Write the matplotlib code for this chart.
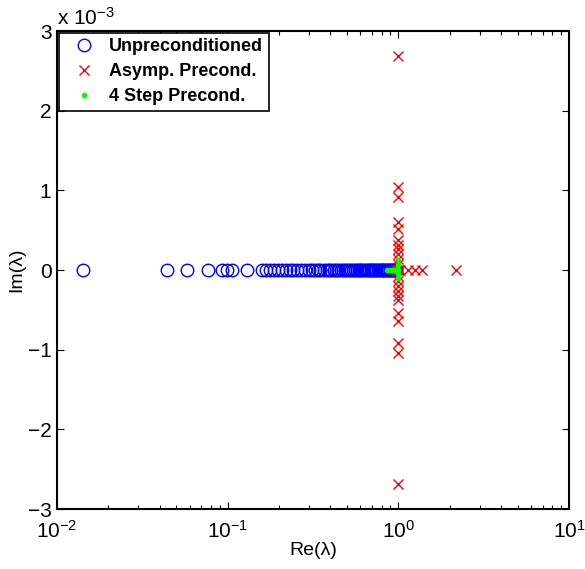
import matplotlib
matplotlib.use('Agg')
import matplotlib.pyplot as plt
import numpy as np

# eigenvalues, imaginary parts in units of 1e-3
blue_re = [0.0142, 0.044, 0.0578, 0.0768, 0.0927, 0.099, 0.106, 0.130, 0.159,
           0.168, 0.177, 0.187, 0.197, 0.208, 0.220, 0.232, 0.241, 0.255, 0.269,
           0.284, 0.30, 0.31, 0.325, 0.34, 0.35, 0.365, 0.38, 0.39, 0.405, 0.42,
           0.43, 0.445, 0.46, 0.475, 0.49, 0.50, 0.515, 0.53, 0.545, 0.56, 0.575,
           0.59, 0.60, 0.615, 0.63, 0.645, 0.66, 0.675, 0.69, 0.70, 0.715, 0.73,
           0.745, 0.76, 0.775, 0.79, 0.80, 0.815, 0.83, 0.845, 0.86, 0.875, 0.89,
           0.90, 0.915, 0.93, 0.945, 0.96, 0.975]
blue_im = [0.0] * len(blue_re)

red_re = [1.0, 1.0, 1.0, 1.0, 1.0, 1.0, 1.0, 1.0, 1.0, 1.0, 1.0,
          1.0, 1.0, 1.0, 1.0, 1.0, 1.0, 1.0, 1.0, 1.0, 1.0, 1.0,
          0.97, 0.99, 1.01, 1.03, 1.14, 1.25, 1.37, 2.17]
red_im = [2.69, 1.04, 0.92, 0.60, 0.52, 0.38, 0.32, 0.26, 0.20, 0.14, 0.08,
          -0.08, -0.14, -0.20, -0.26, -0.32, -0.38, -0.54, -0.64, -0.92, -1.04, -2.69,
          0.0, 0.0, 0.0, 0.0, 0.0, 0.0, 0.0, 0.0]

green_re = [0.86, 0.88, 0.90, 0.92, 0.94, 0.96, 0.98, 0.99, 0.99, 0.99, 0.99, 0.99, 1.0]
green_im = [0.0, 0.0, 0.0, 0.0, 0.0, 0.0, 0.0, 0.12, 0.06, 0.0, -0.05, -0.1, 0.0]

plt.rcParams['font.family'] = ['Liberation Sans', 'DejaVu Sans']
plt.rcParams['mathtext.fontset'] = 'custom'
plt.rcParams['mathtext.rm'] = 'Liberation Sans'
plt.rcParams['mathtext.it'] = 'Liberation Sans'

fig = plt.figure(figsize=(5.85, 5.69), dpi=100)
ax = fig.add_axes([0.0974, 0.1054, 0.8752, 0.8401])

ax.plot(blue_re, blue_im, 'o', mfc='none', mec=(0, 0, 1), ms=9, mew=1.0,
        label='Unpreconditioned')
ax.plot(red_re, red_im, 'x', color=(1, 0, 0), ms=7, mew=1.0,
        label='Asymp. Precond.')
ax.plot(green_re, green_im, '.', color=(0, 1, 0), ms=6,
        label='4 Step Precond.')

ax.set_xscale('log')
ax.set_xlim(1e-2, 1e1)
ax.set_ylim(-3, 3)
ax.set_yticks([-3, -2, -1, 0, 1, 2, 3])
ax.set_yticklabels(['\u22123', '\u22122', '\u22121', '0', '1', '2', '3'])

for s in ax.spines.values():
    s.set_linewidth(1.5)
ax.tick_params(which='both', direction='in', top=True, right=True, labelsize=15)
ax.tick_params(which='major', length=5, width=0.8)
ax.tick_params(which='minor', length=3, width=0.8)
ax.tick_params(axis='x', which='major', pad=8)
ax.tick_params(axis='y', which='major', pad=4)

ax.set_xlabel('Re(\u03bb)', fontsize=14, labelpad=0)
ax.set_ylabel('Im(\u03bb)', fontsize=14, labelpad=2)
ax.text(0.0, 1.005, 'x 10$^{-3}$', transform=ax.transAxes, fontsize=15,
        ha='left', va='bottom')

leg = ax.legend(loc='upper left', borderaxespad=0.1, fancybox=False,
                framealpha=1, edgecolor='black', handletextpad=0.3,
                prop={'weight': 'bold', 'size': 13}, labelspacing=0.45,
                handlelength=2.2, borderpad=0.3)
leg.get_frame().set_linewidth(1.2)

fig.savefig('out.png', dpi=100)
